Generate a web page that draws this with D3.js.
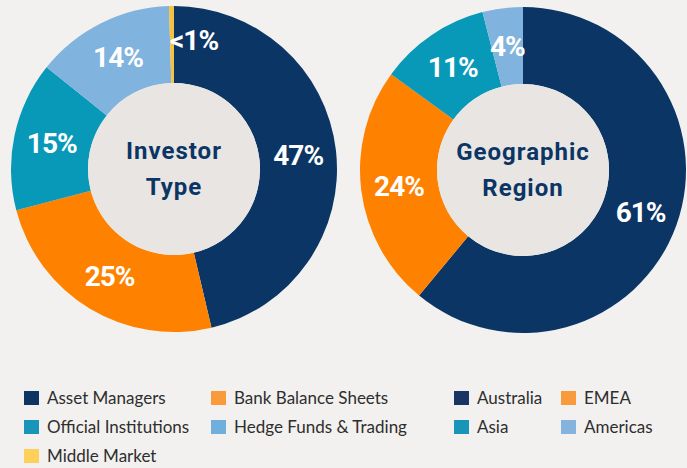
<!DOCTYPE html>
<html>
<head>
<meta charset="utf-8">
<script src="https://cdn.jsdelivr.net/npm/d3@7"></script>
<style>
  html, body { margin: 0; padding: 0; background: #f2f1ef; }
  svg { display: block; }
</style>
</head>
<body>
<script>
// Investor type
const investorCats = ['Asset Managers', 'Bank Balance Sheets', 'Official Institutions', 'Hedge Funds & Trading', 'Middle Market'];
const investorVals = [47, 25, 15, 14, 0.5];
const investorLabels = ['47%', '25%', '15%', '14%', '<1%'];

// Geographic region
const regionCats = ['Australia', 'EMEA', 'Asia', 'Americas'];
const regionVals = [61, 24, 11, 4];
const regionLabels = ['61%', '24%', '11%', '4%'];

const arcColors = ['#0b3564', '#fe8200', '#0898b8', '#80b3dd', '#f5c142'];
const keyColors = ['#0e3461', '#f99a3b', '#1895b8', '#70aedb', '#fdd05a'];
const regionKeyColors = ['#1a3464', '#f99a3b', '#1895b8', '#84b4de'];

const width = 687, height = 468;
const outerR = 163, innerR = 86, labelR = 125;

const svg = d3.select('body').append('svg')
    .attr('width', width)
    .attr('height', height);

const pie = d3.pie().sort(null).value(d => d);
const arc = d3.arc().innerRadius(innerR).outerRadius(outerR);
const labelArc = d3.arc().innerRadius(labelR).outerRadius(labelR);

function donut(cx, cy, vals, labels, title) {
    const g = svg.append('g').attr('transform', `translate(${cx},${cy})`);
    const slices = pie(vals);
    const tiny = d => d.endAngle - d.startAngle < 0.05;

    g.selectAll('path')
        .data(slices).enter()
        .append('path')
        .attr('d', arc)
        .style('fill', (d, i) => arcColors[i]);

    g.append('circle')
        .attr('r', innerR)
        .style('fill', '#e8e5e3');

    g.selectAll('text.pct')
        .data(slices).enter()
        .append('text')
        .attr('class', 'pct')
        .attr('transform', d => {
            const c = labelArc.centroid(d);
            // tiny slice: text sits just right of the sliver
            if (tiny(d)) return `translate(${c[0] - 2},${c[1] - 4})`;
            return `translate(${c[0]},${c[1]})`;
        })
        .attr('dy', '0.36em')
        .attr('text-anchor', d => tiny(d) ? 'start' : 'middle')
        .style('font-family', 'Roboto, sans-serif')
        .style('font-weight', 700)
        .style('font-size', '28px')
        .style('letter-spacing', '-1px')
        .style('fill', '#ffffff')
        .text((d, i) => labels[i]);

    g.selectAll('text.title')
        .data(title).enter()
        .append('text')
        .attr('class', 'title')
        .attr('y', (d, i) => -10 + i * 36)
        .attr('text-anchor', 'middle')
        .style('font-family', 'Roboto, sans-serif')
        .style('font-weight', 700)
        .style('font-size', '24px')
        .style('letter-spacing', '1px')
        .style('fill', '#0b3564')
        .text(d => d);
}

donut(174, 169, investorVals, investorLabels, ['Investor', 'Type']);
donut(523, 170, regionVals, regionLabels, ['Geographic', 'Region']);

// Legend: two columns per chart
function legend(items, colors, x0, colW) {
    const key = svg.append('g');
    const item = key.selectAll('g')
        .data(items).enter()
        .append('g')
        .attr('transform', (d, i) => {
            const col = i % 2, row = Math.floor(i / 2);
            return `translate(${x0 + col * colW},${391 + row * 29})`;
        });
    item.append('rect')
        .attr('width', 15)
        .attr('height', 14)
        .style('fill', (d, i) => colors[i]);
    item.append('text')
        .attr('x', 23)
        .attr('y', 13)
        .style('font-family', 'Lato, sans-serif')
        .style('font-size', '17px')
        .style('fill', '#2e2e2e')
        .text(d => d);
}

legend(investorCats, keyColors, 24, 187);
legend(regionCats, regionKeyColors, 454, 107);
</script>
</body>
</html>
